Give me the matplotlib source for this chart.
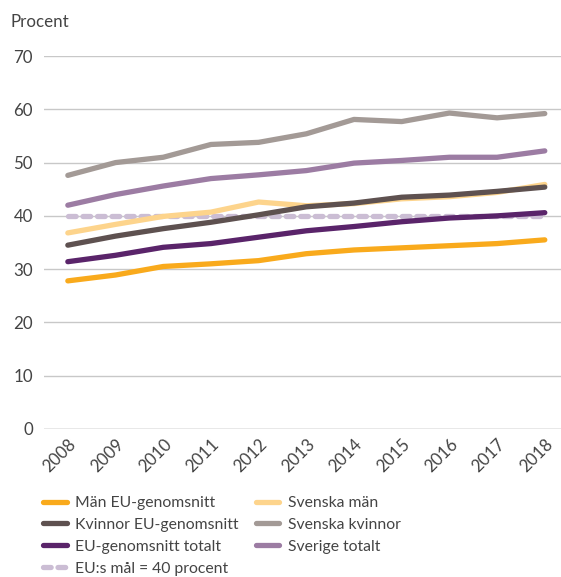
import matplotlib
matplotlib.use("Agg")
import matplotlib.pyplot as plt

plt.rcParams['font.family'] = ['Lato', 'DejaVu Sans']

years = [2008, 2009, 2010, 2011, 2012, 2013, 2014, 2015, 2016, 2017, 2018]

man_eu = [27.8, 28.9, 30.5, 31.0, 31.6, 32.9, 33.6, 34.0, 34.4, 34.8, 35.5]
svenska_man = [36.8, 38.4, 39.9, 40.7, 42.6, 41.9, 42.3, 43.2, 43.6, 44.4, 45.9]
kvinnor_eu = [34.5, 36.2, 37.6, 38.8, 40.2, 41.7, 42.4, 43.5, 43.9, 44.6, 45.4]
svenska_kvinnor = [47.6, 50.0, 51.0, 53.4, 53.8, 55.4, 58.1, 57.7, 59.3, 58.4, 59.2]
eu_totalt = [31.4, 32.6, 34.1, 34.8, 36.0, 37.2, 38.0, 38.9, 39.6, 40.0, 40.6]
sverige_totalt = [42.0, 44.0, 45.6, 47.0, 47.7, 48.5, 49.9, 50.4, 51.0, 51.0, 52.2]
eu_mal = [40] * len(years)

yticks = [0, 10, 20, 30, 40, 50, 60, 70]
txt = '#444444'
fs = 12.2
lfs = 11.3

fig = plt.figure(figsize=(5.61, 5.77), dpi=100)
ax = fig.add_axes([0.0784, 0.2565, 0.9216, 0.6464])

for t in yticks[1:]:
    ax.axhline(t, color='#c8c8c8', lw=1.0, zorder=0)
ax.axhline(0, color='#8c8c8c', lw=1.0, zorder=0)

lw = 3.8
ax.plot(years, eu_mal, color='#cbbdd4', lw=lw, dashes=(1.45, 1.3),
        dash_capstyle='round', label='EU:s mål = 40 procent', zorder=2)
ax.plot(years, man_eu, color='#f9aa1c', lw=lw, solid_capstyle='round', label='Män EU-genomsnitt', zorder=3)
ax.plot(years, svenska_man, color='#fdd48c', lw=lw, solid_capstyle='round', label='Svenska män', zorder=3)
ax.plot(years, kvinnor_eu, color='#5e5150', lw=lw, solid_capstyle='round', label='Kvinnor EU-genomsnitt', zorder=4)
ax.plot(years, svenska_kvinnor, color='#a39a96', lw=lw, solid_capstyle='round', label='Svenska kvinnor', zorder=3)
ax.plot(years, eu_totalt, color='#5a246a', lw=lw, solid_capstyle='round', label='EU-genomsnitt totalt', zorder=3)
ax.plot(years, sverige_totalt, color='#9c7ca3', lw=lw, solid_capstyle='round', label='Sverige totalt', zorder=3)

ax.set_xlim(2007.5, 2018.34)
ax.set_ylim(0, 70)
ax.set_yticks(yticks)
ax.set_xticks(years)
ax.set_xticklabels([str(y) for y in years], rotation=45, ha='right',
                   rotation_mode='anchor')
ax.tick_params(axis='both', length=0, labelsize=fs, colors=txt)
ax.tick_params(axis='y', pad=8)
ax.tick_params(axis='x', pad=5)
for s in ax.spines.values():
    s.set_visible(False)

fig.text(10 / 561, 1 - 22 / 577, 'Procent', fontsize=fs, color=txt, va='center', ha='left')

h, l = ax.get_legend_handles_labels()
order = ['Män EU-genomsnitt', 'Kvinnor EU-genomsnitt', 'EU-genomsnitt totalt', 'EU:s mål = 40 procent',
         'Svenska män', 'Svenska kvinnor', 'Sverige totalt']
hd = dict(zip(l, h))
fig.legend([hd[k] for k in order], order, ncol=2, loc='upper left',
           bbox_to_anchor=(43 / 561, 1 - 496 / 577), frameon=False,
           fontsize=lfs, handlelength=1.5, handletextpad=0.55,
           columnspacing=1.1, labelspacing=0.5, labelcolor=txt,
           borderpad=0, borderaxespad=0)

fig.savefig('out.png', dpi=100)
